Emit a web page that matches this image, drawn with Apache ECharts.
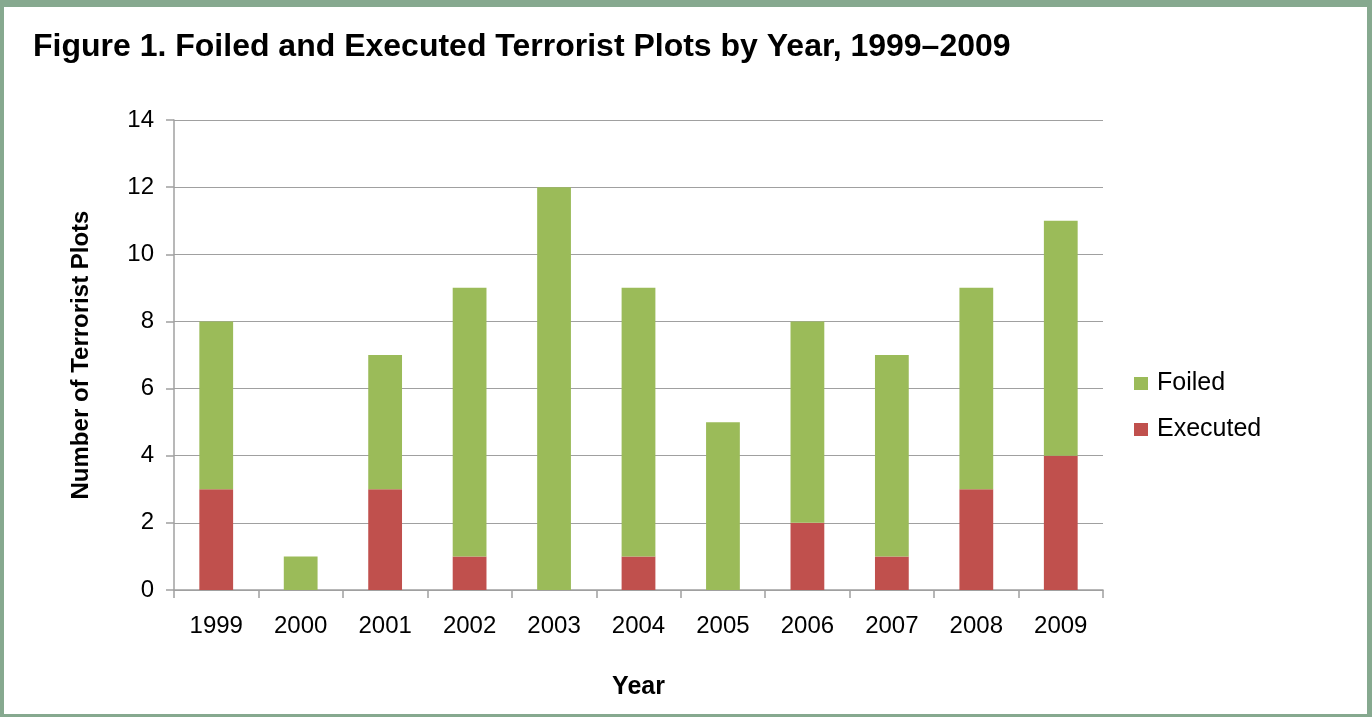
<!DOCTYPE html>
<html>
<head>
<meta charset="utf-8">
<script src="https://cdn.jsdelivr.net/npm/echarts@6/dist/echarts.min.js"></script>
<style>
html,body{margin:0;padding:0;background:#fff;}
#wrap{position:relative;width:1372px;height:717px;}
#main{position:absolute;left:0;top:0;width:1372px;height:717px;}
#frame{position:absolute;left:0;top:0;width:1372px;height:717px;box-sizing:border-box;border-style:solid;border-color:#86A98F;border-width:7px 5px 3px 4px;pointer-events:none;}
</style>
</head>
<body>
<div id="wrap"><div id="main"></div><div id="frame"></div></div>
<script>
const years = ['1999','2000','2001','2002','2003','2004','2005','2006','2007','2008','2009'];
const executed = [3,0,3,1,0,1,0,2,1,3,4];
const foiled = [5,1,4,8,12,8,5,6,6,6,7];
const titleText = 'Figure 1. Foiled and Executed Terrorist Plots by Year, 1999\u20132009';
const yName = 'Number of Terrorist Plots';
const xName = 'Year';

const chart = echarts.init(document.getElementById('main'));
const font = 'Liberation Sans, Arial, sans-serif';
chart.setOption({
  animation:false,
  backgroundColor:'#fff',
  title:{text:titleText,left:33,top:31,padding:0,textStyle:{fontFamily:font,fontSize:32,fontWeight:'bold',color:'#000'}},
  legend:{orient:'vertical',left:1129,top:366,itemWidth:14,itemHeight:13,itemGap:21,icon:'rect',
    data:['Foiled','Executed'],textStyle:{fontFamily:font,fontSize:25,color:'#000',padding:[0,0,0,4]}},
  grid:{left:174,right:269,top:120,bottom:127},
  xAxis:{type:'category',data:years,name:xName,nameLocation:'middle',nameGap:85,
    nameTextStyle:{fontFamily:font,fontSize:25,fontWeight:'bold',color:'#000'},
    axisLine:{lineStyle:{color:'#A0A0A0',width:1.5}},
    axisTick:{show:true,length:8,lineStyle:{color:'#A0A0A0',width:1.5}},
    axisLabel:{fontFamily:font,fontSize:24,color:'#000',margin:24}},
  yAxis:{type:'value',min:0,max:14,interval:2,name:yName,nameLocation:'middle',nameGap:81,
    nameTextStyle:{fontFamily:font,fontSize:24,fontWeight:'bold',color:'#000'},
    axisLine:{show:true,lineStyle:{color:'#A0A0A0',width:1.5}},
    axisTick:{show:true,length:8,lineStyle:{color:'#A0A0A0',width:1.5}},
    axisLabel:{fontFamily:font,fontSize:24,color:'#000',margin:20},
    splitLine:{lineStyle:{color:'#A0A0A0',width:1.2}}},
  series:[
    {name:'Executed',type:'bar',stack:'total',data:executed,barWidth:'40%',itemStyle:{color:'#C0504D'}},
    {name:'Foiled',type:'bar',stack:'total',data:foiled,barWidth:'40%',itemStyle:{color:'#9BBB59'}}
  ]
});
</script>
</body>
</html>
